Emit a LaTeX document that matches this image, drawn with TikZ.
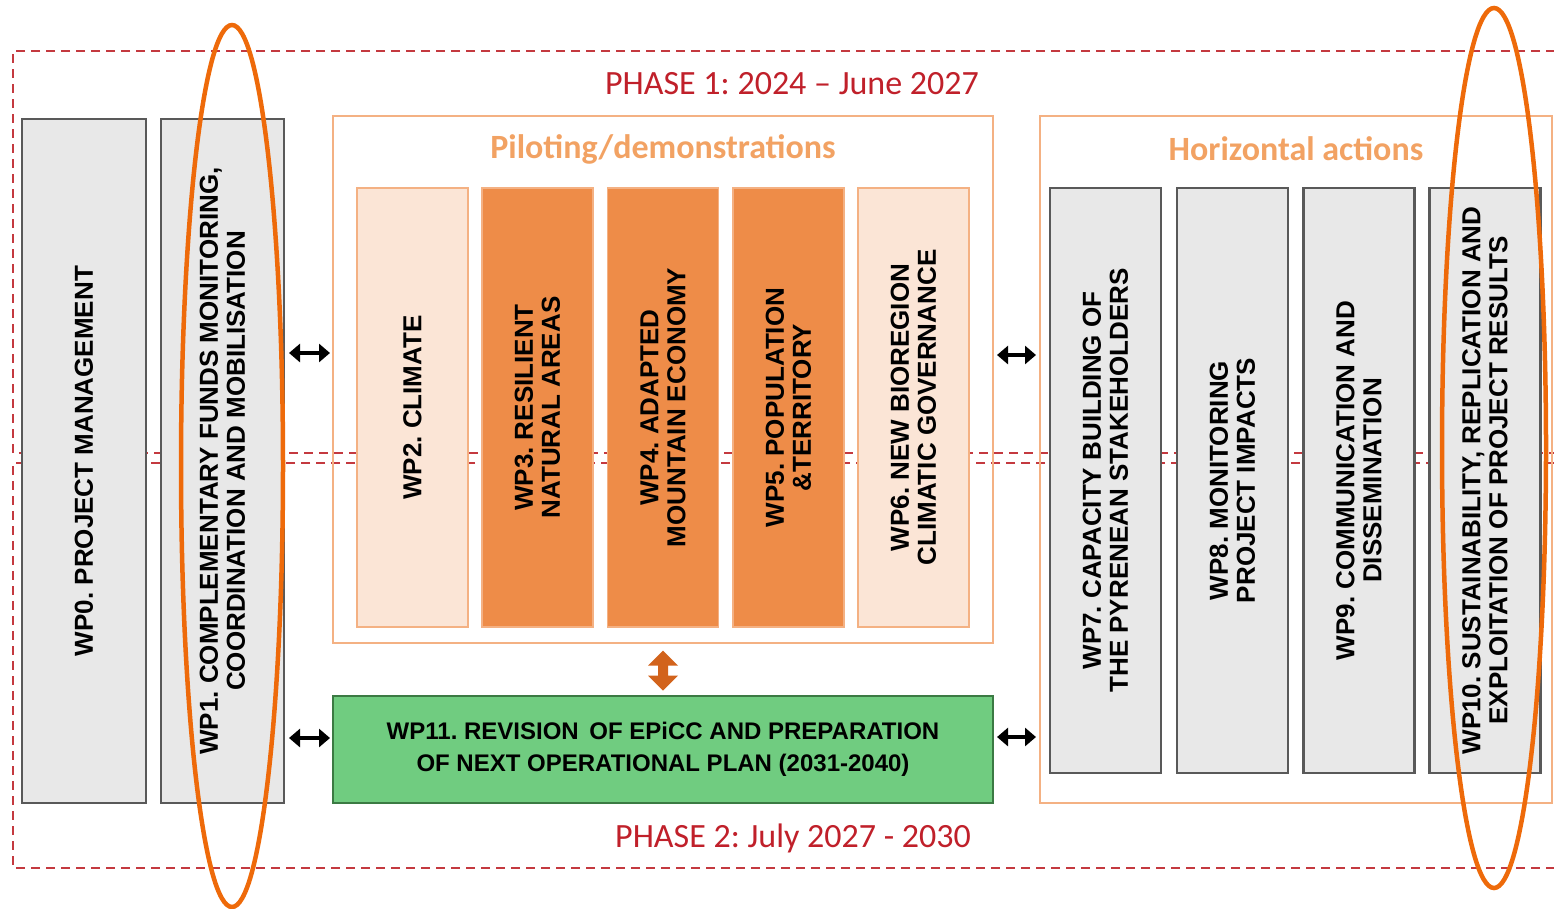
\documentclass[tikz,border=0pt]{standalone}
\usepackage{fontspec}
\setmainfont{Liberation Sans}
\newfontfamily\calibri{Carlito}
\usetikzlibrary{arrows.meta,calc}
\frenchspacing

\definecolor{phasered}{HTML}{C0202A}
\definecolor{dashred}{HTML}{C4393F}
\definecolor{ringorange}{HTML}{EE6A0A}
\definecolor{paleorange}{HTML}{F4B183}
\definecolor{titleorange}{HTML}{F2A263}
\definecolor{peach}{HTML}{FBE5D6}
\definecolor{wporange}{HTML}{EE8C48}
\definecolor{boxgray}{HTML}{E8E8E8}
\definecolor{edgegray}{HTML}{595959}
\definecolor{wpgreen}{HTML}{70CC80}
\definecolor{edgegreen}{HTML}{3B7A43}
\definecolor{linkorange}{HTML}{D2631C}

\begin{document}
\begin{tikzpicture}[x=1pt,y=-1pt,
  phasebox/.style={draw=dashred,line width=2.5,dash pattern=on 9pt off 6pt},
  phasetitle/.style={text=phasered,font=\calibri\fontsize{34}{36}\selectfont,inner sep=0},
  groupbox/.style={draw=paleorange,line width=2,inner sep=0,outer sep=0},
  grouptitle/.style={text=titleorange,font=\calibri\bfseries\fontsize{34}{36}\selectfont,inner sep=0},
  graybox/.style={draw=edgegray,fill=boxgray,line width=2.5,inner sep=0,outer sep=0},
  peachbox/.style={draw=paleorange,fill=peach,line width=2,inner sep=0,outer sep=0},
  orangebox/.style={draw=paleorange,fill=wporange,line width=1.5,inner sep=0,outer sep=0},
  greenbox/.style={draw=edgegreen,fill=wpgreen,line width=2,inner sep=0,outer sep=0},
  wplabel/.style={rotate=90,align=center,inner sep=0,font=\bfseries\fontsize{26}{27}\selectfont},
  biarrow/.style={line width=4.5,{Triangle[length=11pt,width=18pt]}-{Triangle[length=11pt,width=18pt]}},
  ring/.style={draw=ringorange,line width=4.5}
]
\useasboundingbox (0,0) rectangle (1554,908);

% phase frames
\draw[phasebox] (1570,51) -- (13,51) -- (13,453) -- (1570,453);
\draw[phasebox] (1570,463) -- (13,463) -- (13,868) -- (1570,868);
\node[phasetitle] (ph1) at (792,84) {PHASE 1: 2024 – June 2027};
\node[phasetitle] (ph2) at (793,838) {PHASE 2: July 2027 - 2030};

% management work packages
\node[graybox,minimum width=124,minimum height=684] (wp0) at (84,461) {};
\node[wplabel] (wp0t) at (wp0) {WP0. PROJECT MANAGEMENT};
\node[graybox,minimum width=123,minimum height=684] (wp1) at (222.5,461) {};
\node[wplabel] (wp1t) at (wp1) {WP1. COMPLEMENTARY FUNDS MONITORING,\\COORDINATION AND MOBILISATION};

% piloting group
\node[groupbox,minimum width=660,minimum height=527] (pilot) at (663,379.5) {};
\node[grouptitle] (pilott) at (663,149) {Piloting/demonstrations};
\node[peachbox,minimum width=111,minimum height=439] (wp2) at (412.5,407.5) {};
\node[wplabel] (wp2t) at (wp2) {WP2. CLIMATE};
\node[orangebox,minimum width=111,minimum height=439] (wp3) at (537.5,407.5) {};
\node[wplabel] (wp3t) at (wp3) {WP3. RESILIENT\\NATURAL AREAS};
\node[orangebox,minimum width=111,minimum height=439] (wp4) at (663,407.5) {};
\node[wplabel] (wp4t) at (wp4) {WP4. ADAPTED\\MOUNTAIN ECONOMY};
\node[orangebox,minimum width=111,minimum height=439] (wp5) at (788.5,407.5) {};
\node[wplabel] (wp5t) at (wp5) {WP5. POPULATION\\\&TERRITORY};
\node[peachbox,minimum width=111,minimum height=439] (wp6) at (913.5,407.5) {};
\node[wplabel] (wp6t) at (wp6) {WP6. NEW BIOREGION\\CLIMATIC GOVERNANCE};

% revision work package
\node[greenbox,minimum width=660,minimum height=107,align=center,
      font=\bfseries\fontsize{24}{32}\selectfont] (wp11) at (663,749.5)
      {WP11. REVISION\hspace{4pt} OF EPiCC AND PREPARATION\\OF NEXT OPERATIONAL PLAN (2031-2040)};

% horizontal actions group
\node[groupbox,minimum width=512,minimum height=687] (horiz) at (1296,459.5) {};
\node[grouptitle] (horizt) at (1296,149) {Horizontal actions};
\node[graybox,minimum width=111,minimum height=585] (wp7) at (1105.5,480.5) {};
\node[wplabel] (wp7t) at (wp7) {WP7. CAPACITY BUILDING OF\\THE PYRENEAN STAKEHOLDERS};
\node[graybox,minimum width=111,minimum height=585] (wp8) at (1232.5,480.5) {};
\node[wplabel] (wp8t) at (wp8) {WP8. MONITORING\\PROJECT IMPACTS};
\node[graybox,minimum width=111,minimum height=585] (wp9) at (1359,480.5) {};
\node[wplabel] (wp9t) at (wp9) {WP9. COMMUNICATION AND\\DISSEMINATION};
\node[graybox,minimum width=111,minimum height=585] (wp10) at (1485,480.5) {};
\node[wplabel] (wp10t) at (wp10) {WP10. SUSTAINABILITY, REPLICATION AND\\EXPLOITATION OF PROJECT RESULTS};

% links between the blocks
\coordinate (rowa) at (0,353);
\coordinate (rowb) at (0,355);
\coordinate (rowc) at (0,738);
\coordinate (rowd) at (0,737);
\draw[biarrow,shorten <=5pt,shorten >=3pt] (wp1.east |- rowa) -- (pilot.west |- rowa);
\draw[biarrow,shorten <=4pt,shorten >=4pt] (pilot.east |- rowb) -- (horiz.west |- rowb);
\draw[biarrow,shorten <=5pt,shorten >=3pt] (wp1.east |- rowc) -- (wp11.west |- rowc);
\draw[biarrow,shorten <=4pt,shorten >=4pt] (wp11.east |- rowd) -- (horiz.west |- rowd);

% two-way block arrow between piloting and revision
\coordinate (vm) at ($(pilot.south)!0.5!(wp11.north)$);
\fill[linkorange] ([yshift=19pt]vm) -- ([xshift=15pt,yshift=4pt]vm) -- ([xshift=5pt,yshift=4pt]vm)
  -- ([xshift=5pt,yshift=-6pt]vm) -- ([xshift=15pt,yshift=-6pt]vm) -- ([yshift=-21pt]vm)
  -- ([xshift=-15pt,yshift=-6pt]vm) -- ([xshift=-5pt,yshift=-6pt]vm) -- ([xshift=-5pt,yshift=4pt]vm)
  -- ([xshift=-15pt,yshift=4pt]vm) -- cycle;

% highlight rings
\draw[ring] (232,466) ellipse [x radius=51, y radius=441];
\draw[ring] (1494,448) ellipse [x radius=52, y radius=440];
\end{tikzpicture}
\end{document}
